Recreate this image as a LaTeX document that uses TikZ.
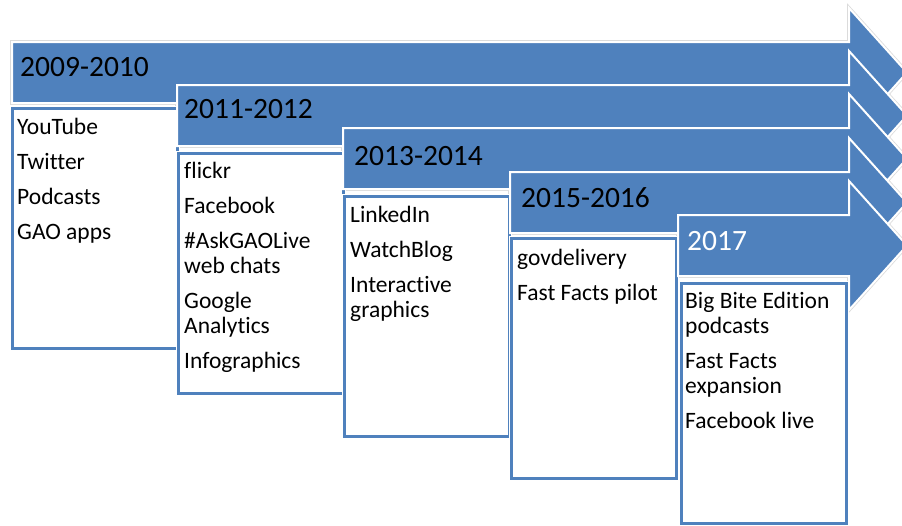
\documentclass[tikz,border=0pt]{standalone}
\usepackage{fontspec}
\setmainfont{Carlito}[Ligatures={NoCommon}]
\definecolor{gaoblue}{HTML}{4F81BD}
\newcommand\boxlines[1]{\vtop{\hsize=300pt\parindent=0pt\parskip=0pt\baselineskip=25pt\lineskiplimit=-30pt\rightskip=0pt plus 1fil\relax #1\par}}
\newcommand\nextitem{\par\vskip10pt}
\newcommand\nextline{\par}
\tikzset{
  arrowfill/.style={fill=gaoblue, draw=white, line width=2pt, line join=miter},
  arrowhalo/.style={draw=black!14, line width=3.6pt, line join=miter},
  stagebox/.style={draw=gaoblue, line width=3pt, fill=white, outer sep=0pt, inner sep=0pt,
    minimum width=165pt, minimum height=240pt, anchor=north west,
    preaction={draw=white, line width=5.5pt}},
  yearlbl/.style={anchor=base west, inner sep=0pt, font=\fontsize{29.5}{30}\selectfont},
  itemtxt/.style={anchor=base west, inner sep=0pt, font=\fontsize{23.5}{25}\selectfont}
}
\begin{document}
\begin{tikzpicture}[x=1pt,y=-1pt]
\useasboundingbox (0,0) rectangle (902,525);
\clip (0,0) rectangle (902,525);
% faint outer edges of the arrows
\foreach \L/\T in {12/42,177/85,343/128,510/172,678/215}{
  \draw[arrowhalo] (\L,\T) -- (849,\T) -- (849,\T-34) -- (907,\T+30.5) -- (849,\T+95) -- (849,\T+61) -- (\L,\T+61) -- cycle;
}
% stage 1
\draw[arrowfill] (12,42) -- (849,42) -- (849,8) -- (907,72.5) -- (849,137) -- (849,103) -- (12,103) -- cycle;
\node[yearlbl] (y1) at (20,76) {2009-2010};
\node[stagebox] (box1) at (12.5,108.5) {};
\node[itemtxt] (t1) at (17,134) {\boxlines{YouTube\nextitem Twitter\nextitem Podcasts\nextitem GAO apps}};
% stage 2
\draw[arrowfill] (177,85) -- (849,85) -- (849,51) -- (907,115.5) -- (849,180) -- (849,146) -- (177,146) -- cycle;
\node[yearlbl] (y2) at (184,118) {2011-2012};
\node[stagebox] (box2) at (178.5,153.5) {};
\node[itemtxt] (t2) at (184,178) {\boxlines{flickr\nextitem Facebook\nextitem \#AskGAOLive\nextline web chats\nextitem Google\nextline Analytics\nextitem Infographics}};
% stage 3
\draw[arrowfill] (343,128) -- (849,128) -- (849,94) -- (907,158.5) -- (849,223) -- (849,189) -- (343,189) -- cycle;
\node[yearlbl] (y3) at (354,165) {2013-2014};
\node[stagebox] (box3) at (344.5,196.5) {};
\node[itemtxt] (t3) at (350,222) {\boxlines{LinkedIn\nextitem WatchBlog\nextitem Interactive\nextline graphics}};
% stage 4
\draw[arrowfill] (510,172) -- (849,172) -- (849,138) -- (907,202.5) -- (849,267) -- (849,233) -- (510,233) -- cycle;
\node[yearlbl] (y4) at (521,207) {2015-2016};
\node[stagebox] (box4) at (511.5,238.5) {};
\node[itemtxt] (t4) at (517,265) {\boxlines{govdelivery\nextitem Fast Facts pilot}};
% stage 5
\draw[arrowfill] (678,215) -- (849,215) -- (849,181) -- (907,245.5) -- (849,310) -- (849,276) -- (678,276) -- cycle;
\node[yearlbl, text=white] (y5) at (687,250) {2017};
\node[stagebox] (box5) at (681.5,283.5) {};
\node[itemtxt] (t5) at (685,308) {\boxlines{Big Bite Edition\nextline podcasts\nextitem Fast Facts\nextline expansion\nextitem Facebook live}};
\end{tikzpicture}
\end{document}
